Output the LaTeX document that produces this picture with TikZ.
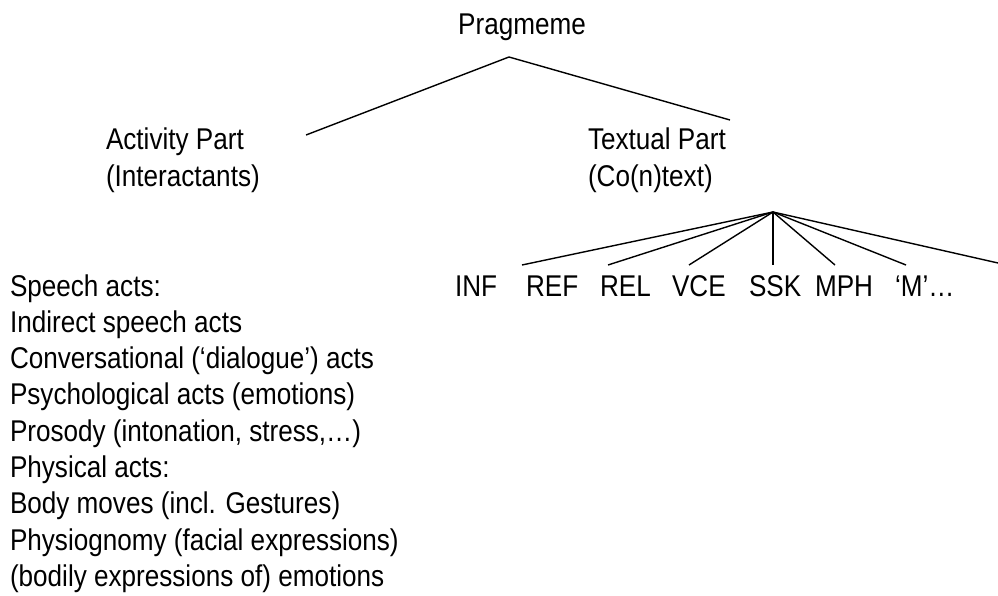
\documentclass[tikz,border=0pt]{standalone}
\usepackage{fontspec}
\setmainfont{Liberation Sans}[FakeStretch=0.87]
\begin{document}
\begin{tikzpicture}[x=1pt,y=-1pt,
  lbl/.style={inner sep=0pt,outer sep=0pt,anchor=base west,font=\fontsize{30}{36}\selectfont},
  edge/.style={line width=1.4pt,black}]
\path[use as bounding box,fill=white] (0,0) rectangle (998,596);
% texts
\node[lbl,anchor=base] (prag) at (522,35) {Pragmeme};
\node[lbl] (act1) at (106,150) {Activity Part};
\node[lbl] (act2) at (106,187) {(Interactants)};
\node[lbl] (txt1) at (588,150) {Textual Part};
\node[lbl] (txt2) at (588,187) {(Co(n)text)};
\node[lbl] (inf) at (455,296) {INF};
\node[lbl] (ref) at (526,296) {REF};
\node[lbl] (rel) at (600,296) {REL};
\node[lbl] (vce) at (672,296) {VCE};
\node[lbl] (ssk) at (749,296) {SSK};
\node[lbl] (mph) at (815,296) {MPH};
\node[lbl] (mm) at (895,296) {‘M’…};
\node[lbl] (l1) at (10,296) {Speech acts:};
\node[lbl] (l2) at (10,332.3) {Indirect speech acts};
\node[lbl] (l3) at (10,368.6) {Conversational (‘dialogue’) acts};
\node[lbl] (l4) at (10,404.9) {Psychological acts (emotions)};
\node[lbl] (l5) at (10,441.2) {Prosody (intonation, stress,…)};
\node[lbl] (l6) at (10,477.5) {Physical acts:};
\node[lbl] (l7) at (10,513.8) {Body moves (incl. Gestures)};
\node[lbl] (l8) at (10,550.1) {Physiognomy (facial expressions)};
\node[lbl] (l9) at (10,586.4) {(bodily expressions of) emotions};
% connector points
\coordinate (ptop) at (509,57);
\coordinate (pl) at (306,135);
\coordinate (pr) at (730,120);
\coordinate (ftop) at (773,212);
\coordinate (f1) at (522,265);
\coordinate (f2) at (608,265);
\coordinate (f3) at (689,265);
\coordinate (f4) at (773,265);
\coordinate (f5) at (835,265);
\coordinate (f6) at (906,265);
\coordinate (f7) at (998,263);
\draw[edge] (pl) -- (ptop) -- (pr);
\foreach \e in {f1,f2,f3,f4,f5,f6,f7} \draw[edge] (ftop) -- (\e);
\end{tikzpicture}
\end{document}
